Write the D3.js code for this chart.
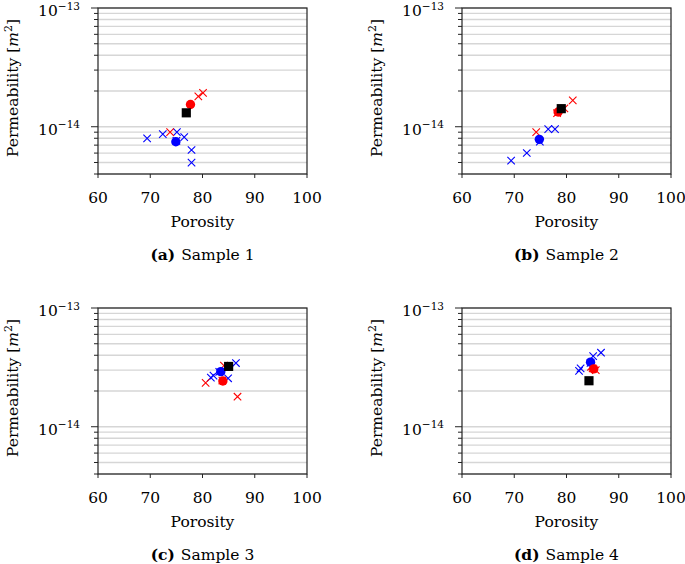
<!DOCTYPE html>
<html><head><meta charset="utf-8">
<script src="https://cdn.jsdelivr.net/npm/d3@7"></script>
<style>
body{margin:0;background:#fff;}
text{font-family:"DejaVu Serif",serif;fill:#000;}
</style></head>
<body><svg id="c" width="685" height="564"></svg>
<script>
const xTicks = [60, 70, 80, 90, 100];
const yLabelTicks = [1e-14, 1e-13];
const yDomain = [4e-15, 1e-13];
const xDomain = [60, 100];
const panelLetters = ["a", "b", "c", "d"];
const panelTitles = ["Sample 1", "Sample 2", "Sample 3", "Sample 4"];

// Sample 1
const s1BlueCross = [[69.4, 7.97e-15], [72.4, 8.67e-15], [75.1, 9.0e-15], [76.5, 8.18e-15], [77.9, 6.37e-15], [77.9, 4.99e-15], [75.0, 7.6e-15]];
const s1RedCross = [[73.8, 9.0e-15], [79.2, 1.80e-14], [80.1, 1.93e-14]];
const s1BlueMean = [[74.9, 7.48e-15]];
const s1RedMean = [[77.7, 1.54e-14]];
const s1Ref = [[76.9, 1.31e-14]];
// Sample 2
const s2BlueCross = [[69.4, 5.19e-15], [72.4, 6.01e-15], [74.9, 7.5e-15], [76.5, 9.55e-15], [77.8, 9.55e-15]];
const s2RedCross = [[74.2, 9.0e-15], [79.6, 1.43e-14], [81.2, 1.67e-14], [78.2, 1.3e-14]];
const s2BlueMean = [[74.8, 7.83e-15]];
const s2RedMean = [[78.4, 1.33e-14]];
const s2Ref = [[79.0, 1.42e-14]];
// Sample 3
const s3BlueCross = [[81.6, 2.59e-14], [82.1, 2.69e-14], [84.9, 2.56e-14], [86.4, 3.44e-14], [83.2, 2.9e-14]];
const s3RedCross = [[80.6, 2.34e-14], [86.7, 1.79e-14], [84.1, 3.27e-14], [83.8, 2.45e-14]];
const s3BlueMean = [[83.5, 2.91e-14]];
const s3RedMean = [[83.9, 2.43e-14]];
const s3Ref = [[85.0, 3.22e-14]];
// Sample 4
const s4BlueCross = [[82.4, 2.95e-14], [82.7, 3.1e-14], [85.1, 3.93e-14], [86.6, 4.20e-14], [84.6, 3.45e-14]];
const s4RedCross = [[84.7, 3.2e-14], [85.6, 3.0e-14], [85.0, 3.1e-14]];
const s4BlueMean = [[84.6, 3.50e-14]];
const s4RedMean = [[85.2, 3.07e-14]];
const s4Ref = [[84.3, 2.44e-14]];

const samples = [
  {blueCross: s1BlueCross, redCross: s1RedCross, blueMean: s1BlueMean, redMean: s1RedMean, ref: s1Ref},
  {blueCross: s2BlueCross, redCross: s2RedCross, blueMean: s2BlueMean, redMean: s2RedMean, ref: s2Ref},
  {blueCross: s3BlueCross, redCross: s3RedCross, blueMean: s3BlueMean, redMean: s3RedMean, ref: s3Ref},
  {blueCross: s4BlueCross, redCross: s4RedCross, blueMean: s4BlueMean, redMean: s4RedMean, ref: s4Ref}
];

const svg = d3.select("#c");
const W = 209, H = 166;
const origins = [[98, 8], [462, 8], [98, 308], [462, 308]];
const x = d3.scaleLinear().domain(xDomain).range([0, W]);
const y = d3.scaleLog().domain(yDomain).range([H, 0]);
const FS = 15.5;

samples.forEach((s, i) => {
  const g = svg.append("g").attr("transform", `translate(${origins[i][0]},${origins[i][1]})`);
  const yt = y.ticks();
  g.selectAll("line.grid").data(yt).join("line").attr("class", "grid")
    .attr("x1", 0).attr("x2", W).attr("y1", d => y(d)).attr("y2", d => y(d))
    .attr("stroke", "#d6d6d6").attr("stroke-width", 1.3);
  const isMajor = d => Math.abs(Math.log10(d) - Math.round(Math.log10(d))) < 1e-6;
  g.selectAll("line.yt").data(yt).join("line").attr("class", "yt")
    .attr("x1", d => isMajor(d) ? -7 : -4).attr("x2", 0).attr("y1", d => y(d)).attr("y2", d => y(d))
    .attr("stroke", "#222").attr("stroke-width", 1);
  g.selectAll("line.xt").data(xTicks).join("line").attr("class", "xt")
    .attr("x1", d => x(d)).attr("x2", d => x(d)).attr("y1", H).attr("y2", H + 4)
    .attr("stroke", "#222").attr("stroke-width", 1);
  g.append("rect").attr("x", 0).attr("y", 0).attr("width", W).attr("height", H)
    .attr("fill", "none").attr("stroke", "#222").attr("stroke-width", 1.2);
  g.selectAll("text.xl").data(xTicks).join("text").attr("class", "xl")
    .attr("x", d => x(d)).attr("y", H + 29).attr("text-anchor", "middle")
    .attr("font-size", FS).text(d => d);
  yLabelTicks.forEach(v => {
    const t = g.append("text").attr("x", -18).attr("y", y(v) + 8).attr("text-anchor", "end").attr("font-size", FS);
    t.append("tspan").text("10");
    t.append("tspan").attr("dy", -6.5).attr("font-size", 10.5).text("\u2212" + Math.round(-Math.log10(v)));
  });
  g.append("text").attr("x", W / 2).attr("y", H + 53).attr("text-anchor", "middle").attr("font-size", FS).text("Porosity");
  const yl = g.append("text").attr("transform", `translate(${-80},${H / 2 - 3}) rotate(-90)`)
    .attr("text-anchor", "middle").attr("font-size", FS);
  yl.append("tspan").text("Permeability [");
  yl.append("tspan").attr("font-style", "italic").text("m");
  yl.append("tspan").attr("dy", -6).attr("font-size", 11).text("2");
  yl.append("tspan").attr("dy", 6).text("]");
  const cap = g.append("text").attr("x", W / 2).attr("y", H + 86).attr("text-anchor", "middle").attr("font-size", FS);
  cap.append("tspan").attr("font-weight", "bold").text(`(${panelLetters[i]})`);
  cap.append("tspan").attr("dx", 6).text(panelTitles[i]);

  const crossPath = d3.symbol(d3.symbolX, 38)();
  const drawCross = (data, color) => g.append("g").selectAll("path").data(data).join("path")
    .attr("d", crossPath).attr("transform", d => `translate(${x(d[0])},${y(d[1])})`)
    .attr("fill", "none").attr("stroke", color).attr("stroke-width", 1.1);
  drawCross(s.blueCross, "#0000ff");
  drawCross(s.redCross, "#ff0000");
  const drawCircle = (data, color) => g.append("g").selectAll("circle").data(data).join("circle")
    .attr("cx", d => x(d[0])).attr("cy", d => y(d[1])).attr("r", 4.7).attr("fill", color);
  drawCircle(s.blueMean, "#0000ff");
  drawCircle(s.redMean, "#ff0000");
  g.append("g").selectAll("path").data(s.ref).join("path")
    .attr("d", d3.symbol(d3.symbolSquare, 84)()).attr("transform", d => `translate(${x(d[0])},${y(d[1])})`)
    .attr("fill", "#000");
});
</script></body></html>
